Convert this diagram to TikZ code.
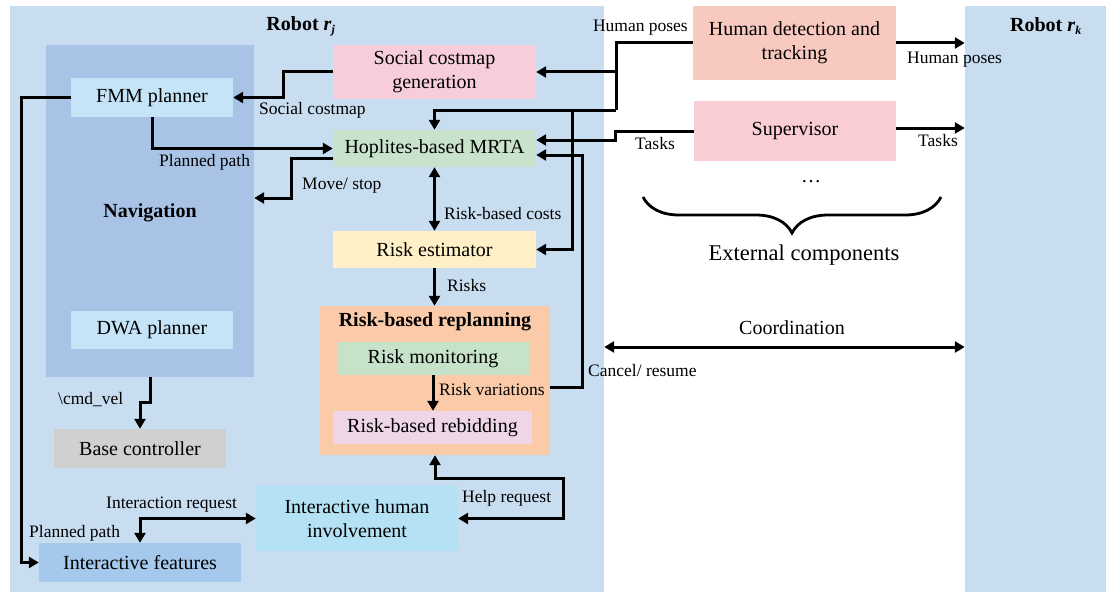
\documentclass[tikz,border=0pt]{standalone}
\usepackage{fontspec}
\setmainfont{Liberation Serif}
\usetikzlibrary{arrows.meta, decorations.pathreplacing}
\definecolor{robotblue}{HTML}{C9DDF1}
\definecolor{navblue}{HTML}{A9C3E6}
\definecolor{plannerblue}{HTML}{C6E4F7}
\definecolor{basegray}{HTML}{D0D0D0}
\definecolor{featblue}{HTML}{A4C9ED}
\definecolor{involvecyan}{HTML}{B4E1F3}
\definecolor{costpink}{HTML}{F8CDDA}
\definecolor{mrtagreen}{HTML}{C8E2CB}
\definecolor{riskyellow}{HTML}{FFF0C7}
\definecolor{replanorange}{HTML}{FBCBA9}
\definecolor{monitorgreen}{HTML}{C6E3C9}
\definecolor{rebidpink}{HTML}{EED5E8}
\definecolor{detectsalmon}{HTML}{F8C9BF}
\definecolor{suppink}{HTML}{F9CDD3}

\tikzset{
  panel/.style={inner sep=0pt},
  blk/.style={inner sep=0pt, align=center, font=\fontsize{20}{24}\selectfont},
  lbl/.style={inner sep=0pt, anchor=west, text height=12pt, text depth=4pt,
              font=\fontsize{17.5}{20}\selectfont},
  ttl/.style={inner sep=0pt, font=\bfseries\fontsize{20}{24}\selectfont},
  wire/.style={line width=3pt},
  link/.style={wire, -{Triangle[length=10pt, width=11pt]}},
  dlink/.style={wire, {Triangle[length=10pt, width=11pt]}-{Triangle[length=10pt, width=11pt]}},
}

\begin{document}
\begin{tikzpicture}[x=1pt, y=-1pt]
  \useasboundingbox[fill=white] (0,0) rectangle (1106,594);

  % robot panels
  \node[panel, fill=robotblue, minimum width=594pt, minimum height=586pt] (robotj) at (307,299) {};
  \node[panel, fill=robotblue, minimum width=141pt, minimum height=586pt] (robotk) at (1035.5,299) {};
  \node[ttl] (titlej) at (301,26) {Robot \textit{r}\textsubscript{\textit{\large j}}};
  \node[ttl] (titlek) at (1046,26) {Robot \textit{r}\textsubscript{\textit{\large k}}};

  % navigation
  \node[panel, fill=navblue, minimum width=208pt, minimum height=332pt] (nav) at (150,211) {};
  \node[ttl] (navtitle) at (150,213) {Navigation};
  \node[blk, fill=plannerblue, minimum width=162pt, minimum height=39pt] (fmm) at (152,97.5) {FMM planner};
  \node[blk, fill=plannerblue, minimum width=162pt, minimum height=38pt] (dwa) at (152,330) {DWA planner};
  \node[blk, fill=basegray, minimum width=172pt, minimum height=39pt] (base) at (140,448.5) {Base controller};
  \node[blk, fill=featblue, minimum width=202pt, minimum height=39pt] (ifeat) at (140,562.5) {Interactive features};
  \node[blk, fill=involvecyan, minimum width=202pt, minimum height=65pt] (ihi) at (357,518.5) {Interactive human\\involvement};

  % task allocation and risk
  \node[blk, fill=costpink, minimum width=203pt, minimum height=54pt] (scg) at (434.5,72) {Social costmap\\generation};
  \node[blk, fill=mrtagreen, minimum width=203pt, minimum height=37pt] (mrta) at (434.5,148.5) {Hoplites-based MRTA};
  \node[blk, fill=riskyellow, minimum width=203pt, minimum height=37pt] (rest) at (434.5,249.5) {Risk estimator};
  \node[panel, fill=replanorange, minimum width=230pt, minimum height=149pt] (replan) at (435,380.5) {};
  \node[ttl] (replantitle) at (435,322) {Risk-based replanning};
  \node[blk, fill=monitorgreen, minimum width=192pt, minimum height=33pt] (rmon) at (433,358.5) {Risk monitoring};
  \node[blk, fill=rebidpink, minimum width=199pt, minimum height=33pt] (rreb) at (432.5,427.5) {Risk-based rebidding};

  % external components
  \node[blk, fill=detectsalmon, minimum width=203pt, minimum height=74pt] (hdt) at (794.5,43) {Human detection and\\tracking};
  \node[blk, fill=suppink, minimum width=202pt, minimum height=60pt] (sup) at (795,131) {Supervisor};
  \node[blk] (more) at (811,182) {\dots};
  \draw[line width=2.8pt, decorate, decoration={brace, mirror, amplitude=36pt}] (643,197) -- (941,197);
  \node[inner sep=0pt, font=\fontsize{22.5}{26}\selectfont] (extlbl) at (804,255) {External components};
  \node[blk] (coordlbl) at (792,328) {Coordination};

  % connectors
  \coordinate (hpbus) at (616,110);
  \coordinate (hptap) at (572,110);
  \draw[wire] (hdt.west) -| (hpbus);
  \draw[link] (hpbus) -| (mrta.north);
  \draw[link] (hpbus |- scg.east) -- (scg.east);
  \draw[link] (hptap) |- (rest.east);
  \draw[link] (sup.west) -- ++(-78,0) |- ([yshift=8.5pt]mrta.east);
  \draw[link] ([yshift=-6.5pt]replan.east) -- ++(32,0) |- ([yshift=-6.5pt]mrta.east);
  \draw[link] (scg.west) -- ++(-49,0) |- (fmm.east);
  \draw[link] (fmm.west) -- ++(-49,0) |- (ifeat.west);
  \draw[link] (fmm.south) |- (mrta.west);
  \draw[link] ([yshift=-9.5pt]mrta.west) -- ++(-41,0) |- ([yshift=13pt]nav.east);
  \draw[dlink] (mrta.south) -- (rest.north);
  \draw[link] (rest.south) -- (rest.south |- replan.north);
  \draw[link] (rmon.south) -- (rmon.south |- rreb.north);
  \draw[link] (nav.south) -- ++(0,25) -| (base.north);
  \coordinate (helpc) at (563,478);
  \draw[dlink] (ihi.east) -| (helpc) -| (replan.south);
  \draw[dlink] (ifeat.north) |- (ihi.west);
  \draw[link] (hdt.east) -- (hdt.east -| robotk.west);
  \coordinate (supout) at ([yshift=3pt]sup.east);
  \draw[link] (supout) -- (supout -| robotk.west);
  \coordinate (coordl) at ([yshift=-48pt]robotj.east);
  \draw[dlink] (coordl) -- (coordl -| robotk.west);

  % connector labels
  \node[lbl] (l1) at (259,110) {Social costmap};
  \node[lbl] (l2) at (159,162) {Planned path};
  \node[lbl] (l3) at (302,185) {Move/ stop};
  \node[lbl] (l4) at (444,215) {Risk-based costs};
  \node[lbl] (l5) at (447,287) {Risks};
  \node[lbl] (l6) at (439,391) {Risk variations};
  \node[lbl] (l7) at (588,372) {Cancel/ resume};
  \node[lbl, anchor=east] (l8) at (688,28) {Human poses};
  \node[lbl] (l9) at (907,60) {Human poses};
  \node[lbl] (l10) at (635,145) {Tasks};
  \node[lbl] (l11) at (918,142) {Tasks};
  \node[lbl] (l12) at (58,400) {\textbackslash cmd\_vel};
  \node[lbl] (l13) at (106,504) {Interaction request};
  \node[lbl] (l14) at (29,533) {Planned path};
  \node[lbl] (l15) at (462,498) {Help request};
\end{tikzpicture}
\end{document}
